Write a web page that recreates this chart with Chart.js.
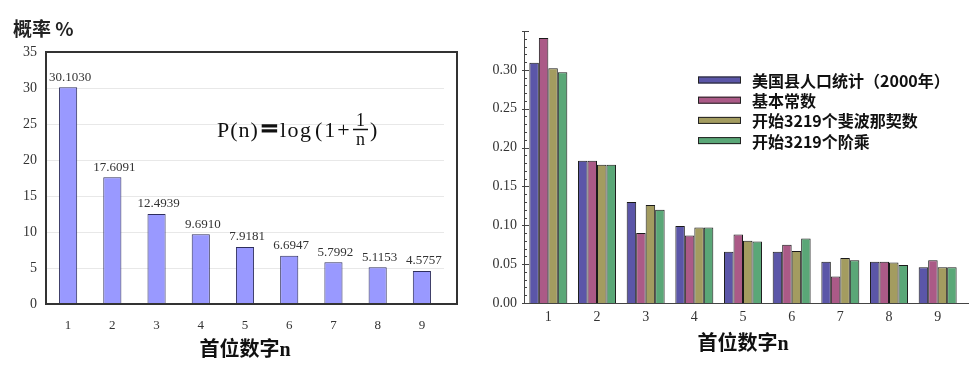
<!DOCTYPE html>
<html>
<head>
<meta charset="utf-8">
<script src="https://cdn.jsdelivr.net/npm/chart.js@4.4.0/dist/chart.umd.min.js"></script>
<style>
  body { margin: 0; background: #fff; width: 974px; height: 375px; position: relative; overflow: hidden; }
  canvas { position: absolute; top: 0; }
  #left { left: 0; }
  #right { left: 480px; }
</style>
</head>
<body>
<canvas id="left" width="480" height="375"></canvas>
<canvas id="right" width="494" height="375"></canvas>
<script>
const SERIF = '"Liberation Serif", "Noto Sans CJK SC", serif';
const SANS = '"Noto Sans CJK SC", "DejaVu Sans", sans-serif';

// left chart: Benford probabilities in percent
const digits = ['1', '2', '3', '4', '5', '6', '7', '8', '9'];
const benfordPct = [30.1030, 17.6091, 12.4939, 9.6910, 7.9181, 6.6947, 5.7992, 5.1153, 4.5757];

// right chart: observed first-digit frequencies
const seriesNames = ['美国县人口统计（2000年）', '基本常数', '开始3219个斐波那契数', '开始3219个阶乘'];
const countyPop = [0.309, 0.183, 0.130, 0.099, 0.066, 0.066, 0.053, 0.053, 0.046];
const physConst = [0.341, 0.183, 0.090, 0.087, 0.088, 0.075, 0.034, 0.053, 0.055];
const fibonacci = [0.302, 0.178, 0.126, 0.097, 0.080, 0.067, 0.058, 0.052, 0.046];
const factorial = [0.297, 0.178, 0.120, 0.097, 0.079, 0.083, 0.055, 0.049, 0.046];
const seriesColors = ['#5b56a8', '#ab5a87', '#a39c60', '#5aa777'];

// frame, value labels and formula for the left chart
const leftDecor = {
  id: 'leftDecor',
  afterDraw(chart) {
    const ctx = chart.ctx;
    const a = chart.chartArea;
    ctx.save();
    ctx.strokeStyle = '#333';
    ctx.lineWidth = 2;
    ctx.strokeRect(a.left, a.top, a.right + 13 - a.left, a.bottom - a.top);

    // value labels above bars
    ctx.fillStyle = '#333';
    ctx.font = '13px ' + SERIF;
    ctx.textAlign = 'center';
    ctx.textBaseline = 'middle';
    chart.getDatasetMeta(0).data.forEach((bar, i) => {
      ctx.fillText(benfordPct[i].toFixed(4), bar.x + 2, bar.y - 10);
    });

    // P(n) = log(1 + 1/n)
    ctx.fillStyle = '#111';
    ctx.strokeStyle = '#111';
    ctx.textAlign = 'left';
    ctx.textBaseline = 'alphabetic';
    const base = 137;
    ctx.font = '22px ' + SERIF;
    ctx.letterSpacing = '1px';
    ctx.fillText('P(n)', 217, base);
    ctx.save();
    ctx.letterSpacing = '0px';
    ctx.font = 'bold 26px ' + SERIF;
    const eqW = ctx.measureText('=').width;
    ctx.translate(261, base);
    ctx.scale(17 / eqW, 1);
    ctx.lineWidth = 1.4;
    ctx.fillText('=', 0, 0);
    ctx.strokeText('=', 0, 0);
    ctx.restore();
    ctx.font = '22px ' + SERIF;
    ctx.letterSpacing = '1.5px';
    ctx.fillText('log', 280, base);
    ctx.letterSpacing = '2px';
    ctx.fillText('(1+', 315, base);
    ctx.letterSpacing = '0px';
    ctx.font = '18px ' + SERIF;
    ctx.textAlign = 'center';
    ctx.fillText('1', 360.5, 126);
    ctx.fillText('n', 360.5, 145);
    ctx.lineWidth = 1.5;
    ctx.beginPath();
    ctx.moveTo(353, 129.5);
    ctx.lineTo(368, 129.5);
    ctx.stroke();
    ctx.textAlign = 'left';
    ctx.font = '22px ' + SERIF;
    ctx.fillText(')', 370, base);
    ctx.restore();
  }
};

new Chart(document.getElementById('left'), {
  type: 'bar',
  data: {
    labels: digits,
    datasets: [{
      data: benfordPct,
      backgroundColor: '#9999ff',
      borderColor: '#2e2e5c',
      borderWidth: 1,
      barPercentage: 0.41,
      categoryPercentage: 1
    }]
  },
  options: {
    responsive: false,
    animation: false,
    layout: { padding: { left: 13, right: 36, top: 0, bottom: 0 } },
    plugins: {
      legend: { display: false },
      tooltip: { enabled: false },
      title: {
        display: true,
        text: '概率 %',
        align: 'start',
        color: '#222',
        font: { family: SANS, size: 19, weight: 'bold' },
        padding: { top: 17.6, bottom: 11.6 }
      }
    },
    scales: {
      x: {
        grid: { display: false, drawTicks: false },
        border: { display: false },
        ticks: { color: '#333', font: { family: SERIF, size: 13 }, padding: 14 },
        title: {
          display: true,
          text: '首位数字n',
          color: '#111',
          font: { family: SERIF, size: 20, weight: 'bold' },
          padding: { top: 0, bottom: 12 }
        },
        afterFit(s) { s.height = 71; }
      },
      y: {
        min: 0,
        max: 35,
        ticks: { stepSize: 5, color: '#333', font: { family: SERIF, size: 14 }, padding: 9 },
        grid: { color: '#e8e8e8', drawTicks: false },
        border: { display: false },
        afterFit(s) { s.width = 33; }
      }
    }
  },
  plugins: [leftDecor]
});

// minor ticks, axis extension and legend for the right chart
const rightDecor = {
  id: 'rightDecor',
  afterDraw(chart) {
    const ctx = chart.ctx;
    const a = chart.chartArea;
    const y = chart.scales.y;
    ctx.save();
    ctx.strokeStyle = '#444';
    ctx.lineWidth = 1;
    ctx.beginPath();
    for (let i = 0; i <= 35; i++) {
      const py = Math.round(y.getPixelForValue(i / 100)) + 0.5;
      const major = i % 5 === 0;
      ctx.moveTo(a.left - (major ? 2 : 0), py);
      ctx.lineTo(a.left + (major ? 5 : 3), py);
    }
    ctx.moveTo(a.right, Math.round(a.bottom) + 0.5);
    ctx.lineTo(a.right + 7, Math.round(a.bottom) + 0.5);
    ctx.stroke();

    ctx.font = 'bold 16px ' + SANS;
    ctx.textBaseline = 'middle';
    chart.data.datasets.forEach((ds, i) => {
      const ry = 80 + i * 20.2;
      ctx.fillStyle = ds.backgroundColor;
      ctx.fillRect(218, ry - 3.5, 43, 7);
      ctx.strokeStyle = '#222';
      ctx.strokeRect(218.5, ry - 3, 42, 6);
      ctx.fillStyle = '#111';
      ctx.fillText(ds.label, 272, ry + 1);
    });
    ctx.restore();
  }
};

const rightSeries = [countyPop, physConst, fibonacci, factorial];

new Chart(document.getElementById('right'), {
  type: 'bar',
  data: {
    labels: digits,
    datasets: rightSeries.map((vals, i) => ({
      label: seriesNames[i],
      data: vals,
      backgroundColor: seriesColors[i],
      borderColor: '#1a1a1a',
      borderWidth: 1,
      barPercentage: 1,
      categoryPercentage: 0.78
    }))
  },
  options: {
    responsive: false,
    animation: false,
    layout: { padding: { left: 0, right: 12, top: 31, bottom: 0 } },
    plugins: {
      legend: { display: false },
      tooltip: { enabled: false }
    },
    scales: {
      x: {
        grid: { display: false, drawTicks: false },
        border: { display: true, color: '#444', width: 1 },
        ticks: { color: '#333', font: { family: SERIF, size: 14 }, padding: 6 },
        title: {
          display: true,
          text: '首位数字n',
          color: '#111',
          font: { family: SERIF, size: 20, weight: 'bold' },
          padding: { top: 0, bottom: 18 }
        },
        afterFit(s) { s.height = 72; }
      },
      y: {
        min: 0,
        max: 0.35,
        ticks: {
          stepSize: 0.05,
          color: '#333',
          font: { family: SERIF, size: 14 },
          padding: 7,
          callback: v => (v > 0.31 ? '' : v.toFixed(2))
        },
        grid: { display: false, drawTicks: false },
        border: { display: true, color: '#444', width: 1 },
        afterFit(s) { s.width = 44; }
      }
    }
  },
  plugins: [rightDecor]
});
</script>
</body>
</html>
